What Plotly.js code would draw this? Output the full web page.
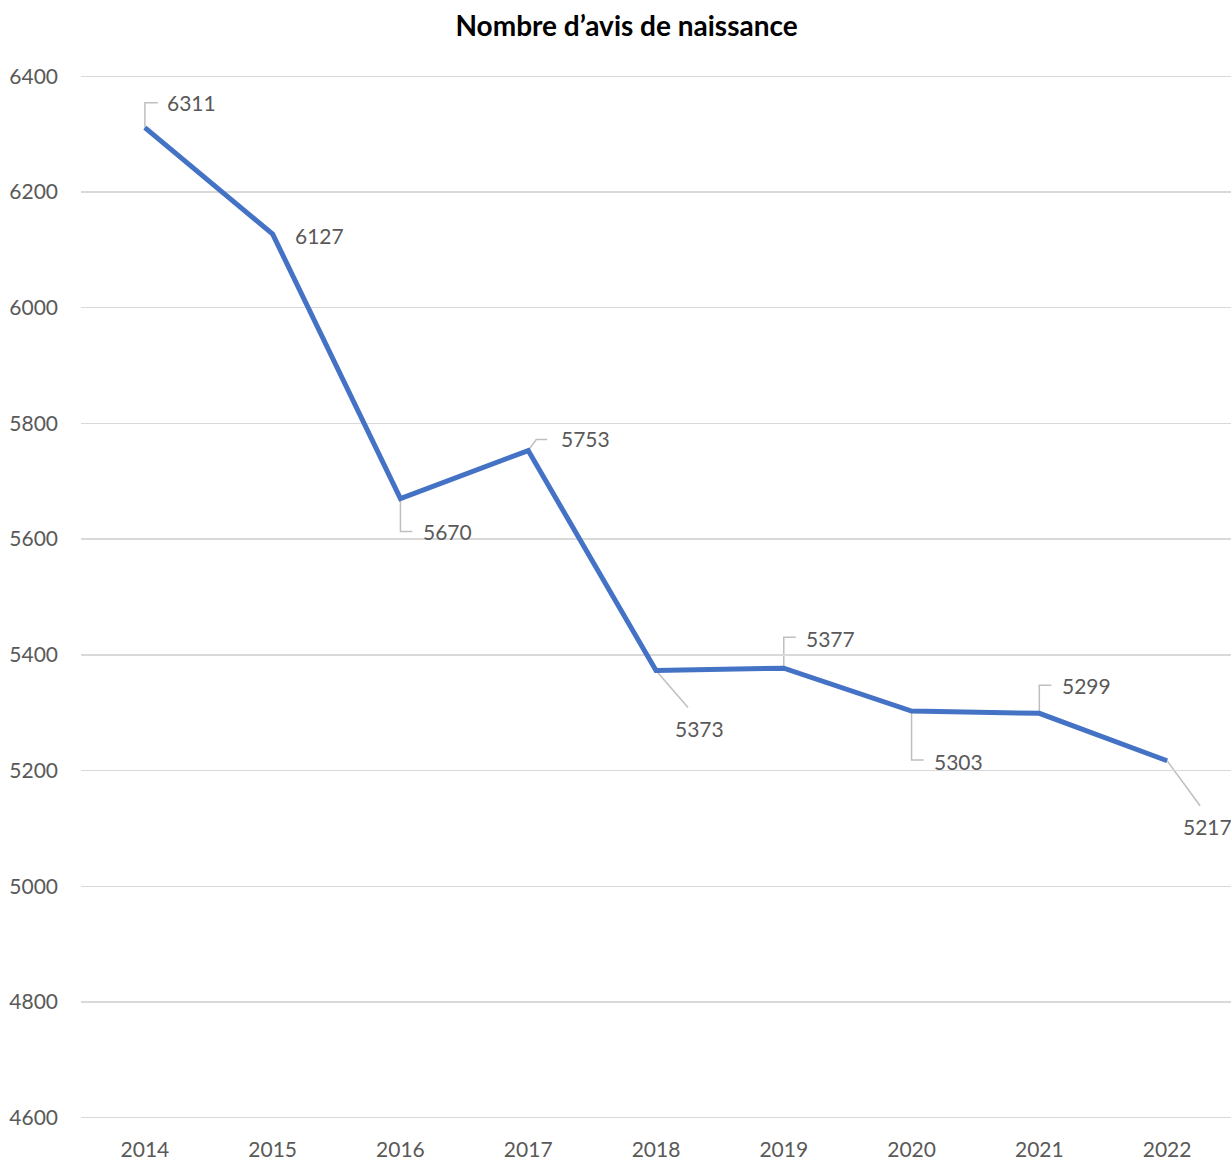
<!DOCTYPE html>
<html>
<head>
<meta charset="utf-8">
<script src="https://cdn.plot.ly/plotly-3.0.1.min.js"></script>
<style>html,body{margin:0;padding:0;background:#fff;}#chart{width:1231px;height:1160px;}#err{position:absolute;top:0;left:0;color:red;font:14px sans-serif;}</style>
</head>
<body>
<div id="chart"></div>
<div id="err"></div>
<script>
const years = ["2014","2015","2016","2017","2018","2019","2020","2021","2022"];
const births = [6311, 6127, 5670, 5753, 5373, 5377, 5303, 5299, 5217];
const yTicks = [4600, 4800, 5000, 5200, 5400, 5600, 5800, 6000, 6200, 6400];
const chartTitle = "Nombre d’avis de naissance";

// label placement (pixels, text centre relative to the point; dy positive = down)
const labelDx = [47, 47, 47, 57, 43, 47, 47, 47, 40];
const labelDy = [-25, 1, 33, -12, 58, -30, 50, -28, 66];
// leader line paths in pixels relative to the point (y positive = up); empty = none
const leaderPaths = ["M0,0 V25 H13", "", "M0,0 V-33 H12", "M0,0 L8,11 H19", "M0,0 L32,-37",
                     "M0,0 V31 H12", "M0,0 V-49 H12", "M0,0 V28 H12", "M0,0 L33,-45"];

const font = "Lato, sans-serif";
const grey = "#595959";

try {
const annotations = [];
const shapes = [];
for (let i = 0; i < years.length; i++) {
  annotations.push({
    x: i, y: births[i], xref: "x", yref: "y",
    text: String(births[i]), showarrow: false,
    xshift: labelDx[i], yshift: -labelDy[i],
    font: {family: font, size: 21, color: grey}
  });
  if (leaderPaths[i]) {
    shapes.push({
      type: "path", xref: "x", yref: "y",
      xsizemode: "pixel", ysizemode: "pixel",
      xanchor: i, yanchor: births[i],
      path: leaderPaths[i],
      line: {color: "#bfbfbf", width: 1.5},
      layer: "below"
    });
  }
}

const trace = {
  x: years, y: births, type: "scatter", mode: "lines",
  line: {color: "#4472C4", width: 5},
  hoverinfo: "x+y"
};

const layout = {
  width: 1231, height: 1160,
  margin: {l: 81, r: 0, t: 75, b: 41},
  paper_bgcolor: "#fff", plot_bgcolor: "#fff",
  title: {text: "<b>" + chartTitle + "</b>", x: 0.509, xanchor: "center", y: 0.977, yanchor: "middle",
          font: {family: font, size: 28, color: "#000"}},
  showlegend: false,
  xaxis: {type: "category", range: [-0.5, 8.5], showgrid: false, zeroline: false,
          showline: false, ticks: "", tickfont: {family: font, size: 21, color: grey}, ticklabelstandoff: 16},
  yaxis: {range: [4598, 6402], tickvals: yTicks, ticktext: yTicks.map(String),
          showgrid: true, gridcolor: "#d9d9d9", gridwidth: 1.3, zeroline: false, showline: false,
          ticks: "", tickfont: {family: font, size: 21, color: grey}, ticklabelstandoff: 22},
  annotations: annotations,
  shapes: shapes
};

Plotly.newPlot("chart", [trace], layout, {displayModeBar: false, staticPlot: true}).catch(e => {
  document.getElementById("err").textContent = "ERR " + e;
});
} catch (e) {
  document.getElementById("err").textContent = "ERR " + e;
}
</script>
</body>
</html>
